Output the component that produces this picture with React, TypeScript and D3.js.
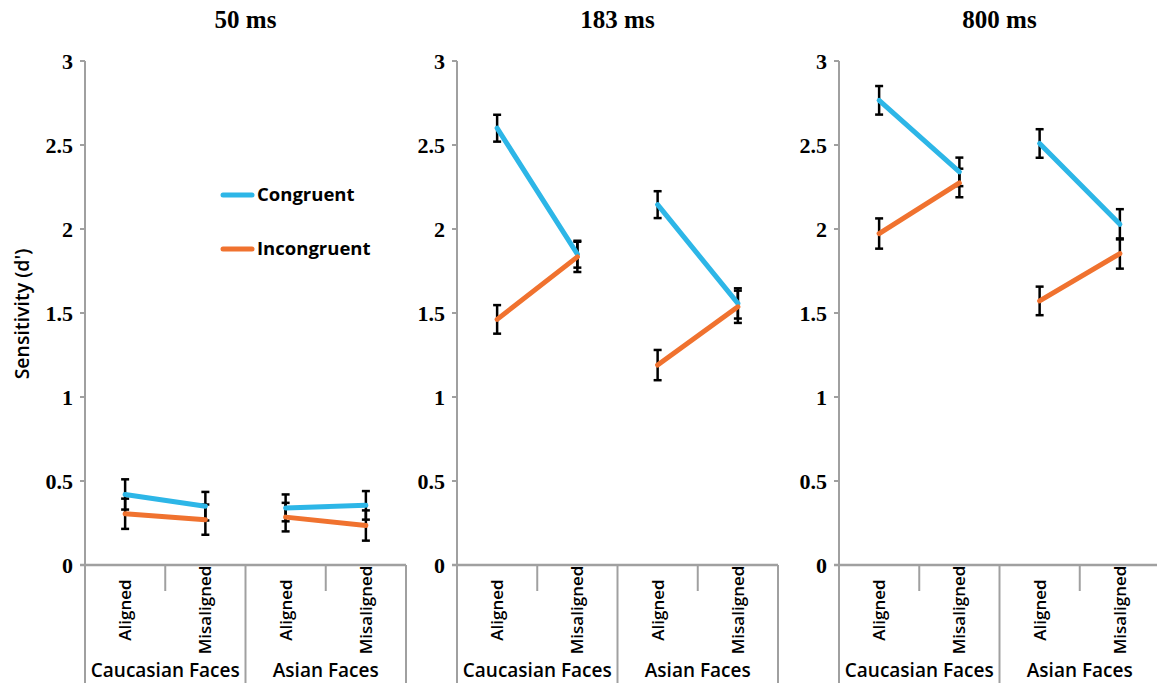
import React from "react";
import * as d3 from "d3";

const panels = ["50 ms", "183 ms", "800 ms"];
const conditions = ["Aligned", "Misaligned", "Aligned", "Misaligned"];
const groups = ["Caucasian Faces", "Asian Faces"];
const yTicks = [0, 0.5, 1, 1.5, 2, 2.5, 3];

// values per panel: [CaucAligned, CaucMisaligned, AsianAligned, AsianMisaligned]
const congruent = [
  [0.42, 0.35, 0.34, 0.355],
  [2.6, 1.85, 2.145, 1.557],
  [2.766, 2.34, 2.509, 2.028],
];
const congruentErr = [
  [0.09, 0.085, 0.08, 0.085],
  [0.08, 0.08, 0.08, 0.09],
  [0.085, 0.085, 0.085, 0.09],
];
const incongruent = [
  [0.305, 0.27, 0.285, 0.235],
  [1.462, 1.834, 1.19, 1.537],
  [1.973, 2.274, 1.572, 1.854],
];
const incongruentErr = [
  [0.09, 0.09, 0.085, 0.09],
  [0.085, 0.09, 0.09, 0.096],
  [0.09, 0.085, 0.085, 0.09],
];

const seriesNames = ["Congruent", "Incongruent"];
const seriesColors = ["#2db6e7", "#f0722f"];

const W = 1157;
const H = 683;
const panelLeft = [85, 457, 839];
const panelWidth = 321;
const yTop = 61;
const yBottom = 565;
const axisColor = "#a0a0a0";
const serif = "'Liberation Serif', 'DejaVu Serif', serif";
const sans = "'Open Sans', Lato, sans-serif";

export default function App() {
  const y = d3.scaleLinear().domain([0, 3]).range([yBottom, yTop]);

  return (
    <svg
      width={W}
      height={H}
      style={{ position: "absolute", left: 0, top: 0, background: "#fff" }}
    >
      <text
        transform={`translate(29,${314}) rotate(-90)`}
        textAnchor="middle"
        fontFamily={sans}
        fontWeight={600}
        fontSize={19.5}
        fill="#000"
      >
        Sensitivity (d')
      </text>
      {panels.map((title, p) => {
        const x0 = panelLeft[p];
        const xs = d3
          .scaleBand<string>()
          .domain(conditions.map((_, i) => String(i)))
          .range([x0, x0 + panelWidth]);
        const gx = d3
          .scaleBand<string>()
          .domain(groups)
          .range([x0, x0 + panelWidth]);
        const cx = (i: number) => (xs(String(i)) as number) + xs.bandwidth() / 2;
        const allVals = [congruent[p], incongruent[p]];
        const allErr = [congruentErr[p], incongruentErr[p]];
        return (
          <g key={title}>
            <text
              x={x0 + panelWidth / 2}
              y={28}
              textAnchor="middle"
              fontFamily={serif}
              fontWeight={700}
              fontSize={25}
            >
              {title}
            </text>
            {/* y axis */}
            <line x1={x0} x2={x0} y1={yTop} y2={yBottom} stroke={axisColor} strokeWidth={2} />
            {yTicks.map((t) => (
              <g key={t}>
                <line x1={x0 - 5} x2={x0} y1={y(t)} y2={y(t)} stroke={axisColor} strokeWidth={2} />
                <text
                  x={x0 - 12}
                  y={y(t)}
                  dy="0.35em"
                  textAnchor="end"
                  fontFamily={serif}
                  fontWeight={700}
                  fontSize={22}
                >
                  {t}
                </text>
              </g>
            ))}
            {/* x axis */}
            <line x1={x0 - 5} x2={x0 + panelWidth} y1={yBottom} y2={yBottom} stroke={axisColor} strokeWidth={2.5} />
            {/* group boundaries */}
            {[x0, gx("Asian Faces") as number, x0 + panelWidth].map((gxv, k) => (
              <line key={k} x1={gxv} x2={gxv} y1={yBottom} y2={H} stroke={axisColor} strokeWidth={2} />
            ))}
            {/* minor ticks */}
            {[1, 3].map((i) => (
              <line
                key={i}
                x1={xs(String(i)) as number}
                x2={xs(String(i)) as number}
                y1={yBottom}
                y2={yBottom + 26}
                stroke={axisColor}
                strokeWidth={2}
              />
            ))}
            {conditions.map((c, i) => (
              <text
                key={i}
                transform={`translate(${cx(i) + 6},${610}) rotate(-90)`}
                textAnchor="middle"
                fontFamily={sans}
                fontWeight={600}
                fontSize={17}
              >
                {c}
              </text>
            ))}
            {groups.map((g) => (
              <text
                key={g}
                x={(gx(g) as number) + gx.bandwidth() / 2}
                y={677}
                textAnchor="middle"
                fontFamily={sans}
                fontWeight={600}
                fontSize={19}
              >
                {g}
              </text>
            ))}
            {/* error bars */}
            {allVals.map((vals, s) =>
              vals.map((v, i) => {
                const e = allErr[s][i];
                const xx = cx(i);
                return (
                  <g key={`${s}-${i}`} stroke="#000" strokeWidth={2.5}>
                    <line x1={xx} x2={xx} y1={y(v - e)} y2={y(v + e)} />
                    <line x1={xx - 4} x2={xx + 4} y1={y(v - e)} y2={y(v - e)} />
                    <line x1={xx - 4} x2={xx + 4} y1={y(v + e)} y2={y(v + e)} />
                  </g>
                );
              })
            )}
            {/* lines: Caucasian pair and Asian pair */}
            {allVals.map((vals, s) =>
              [0, 2].map((start) => (
                <path
                  key={`${s}-${start}`}
                  d={
                    d3
                      .line<number>()
                      .x((_, k) => cx(start + k))
                      .y((v) => y(v))(vals.slice(start, start + 2)) as string
                  }
                  fill="none"
                  stroke={seriesColors[s]}
                  strokeWidth={5}
                  strokeLinecap="round"
                />
              ))
            )}
          </g>
        );
      })}
      {/* legend */}
      {seriesNames.map((n, i) => (
        <g key={n}>
          <line
            x1={223}
            x2={252}
            y1={195 + i * 54}
            y2={195 + i * 54}
            stroke={seriesColors[i]}
            strokeWidth={5}
            strokeLinecap="round"
          />
          <text
            x={257}
            y={195 + i * 54}
            dy="0.35em"
            fontFamily={sans}
            fontWeight={700}
            fontSize={18.5}
          >
            {n}
          </text>
        </g>
      ))}
    </svg>
  );
}
